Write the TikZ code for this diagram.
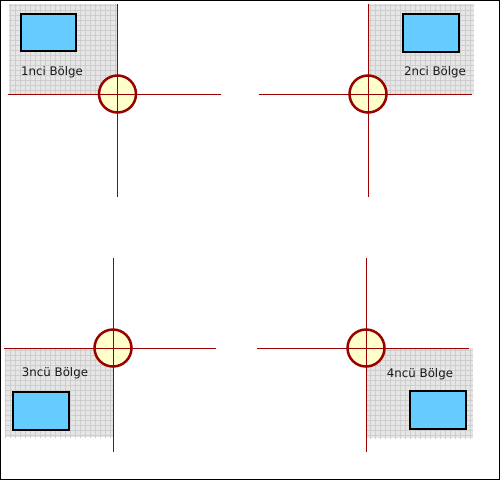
\documentclass[tikz,border=0pt]{standalone}
\usepackage{fontspec}
\setmainfont{DejaVu Sans}
\usepackage{tikz}
\usetikzlibrary{positioning}
\definecolor{axisred}{RGB}{153,0,0}
\definecolor{cellgrey}{RGB}{230,230,230}
\definecolor{gridgrey}{RGB}{206,206,206}
\definecolor{boxblue}{RGB}{102,204,255}
\definecolor{ringfill}{RGB}{255,255,204}
\tikzset{
  axis/.style={axisred, line width=1pt},
  ring/.style={circle, draw=axisred, fill=ringfill, line width=2.5pt, minimum size=37pt, inner sep=0pt},
  screen/.style={draw=black, fill=boxblue, line width=2pt},
  zonegrid/.style={gridgrey, line width=0.6pt, step=5pt},
  zonelabel/.style={font=\fontsize{11.8}{14}\selectfont, text=black!90, inner sep=0pt}
}

\begin{document}
\begin{tikzpicture}[x=1pt, y=-1pt]
  \useasboundingbox (0,0) rectangle (500,480);
  \draw[line width=1pt] (0.5,0.5) rectangle (499.5,479.5);

  % 1nci bolge
  \fill[cellgrey] (9,4) rectangle (117,94);
  \begin{scope}
    \clip (9,4) rectangle (117,94);
    \draw[zonegrid] (5,100) grid (120,0);
  \end{scope}
  \draw[screen] (20.5,13.5) rectangle (76,51);
  \node[zonelabel] (z1) at (52,72) {1nci Bölge};
  \draw[axis] (117.5,4) -- (117.5,197);
  \draw[axis] (8,94) -- (221,94);
  \node[ring] (c1) at (117.5,94) {};
  \draw[axis] (c1.north) -- (c1.south) (c1.west) -- (c1.east);

  % 2nci bolge
  \fill[cellgrey] (368,4) rectangle (474,94);
  \begin{scope}
    \clip (368,4) rectangle (474,94);
    \draw[zonegrid] (365,100) grid (480,0);
  \end{scope}
  \draw[screen] (403,14) rectangle (459,52);
  \node[zonelabel] (z2) at (435,72) {2nci Bölge};
  \draw[axis] (368,4) -- (368,197);
  \draw[axis] (259,94) -- (472,94);
  \node[ring] (c2) at (368,94) {};
  \draw[axis] (c2.north) -- (c2.south) (c2.west) -- (c2.east);

  % 3ncu bolge
  \fill[cellgrey] (5,348) rectangle (113,437);
  \begin{scope}
    \clip (5,348) rectangle (113,437);
    \draw[zonegrid] (0,440) grid (115,345);
  \end{scope}
  \draw[screen] (12.5,392) rectangle (69,430);
  \node[zonelabel] (z3) at (55,373) {3ncü Bölge};
  \draw[axis] (113,258) -- (113,452);
  \draw[axis] (4,348) -- (216,348);
  \node[ring] (c3) at (113,348) {};
  \draw[axis] (c3.north) -- (c3.south) (c3.west) -- (c3.east);

  % 4ncu bolge
  \fill[cellgrey] (366,348) rectangle (473,438);
  \begin{scope}
    \clip (366,348) rectangle (473,438);
    \draw[zonegrid] (365,440) grid (480,345);
  \end{scope}
  \draw[screen] (410,391) rectangle (466,429);
  \node[zonelabel] (z4) at (420,374) {4ncü Bölge};
  \draw[axis] (366,258) -- (366,452);
  \draw[axis] (257,348) -- (469,348);
  \node[ring] (c4) at (366,348) {};
  \draw[axis] (c4.north) -- (c4.south) (c4.west) -- (c4.east);
\end{tikzpicture}
\end{document}
